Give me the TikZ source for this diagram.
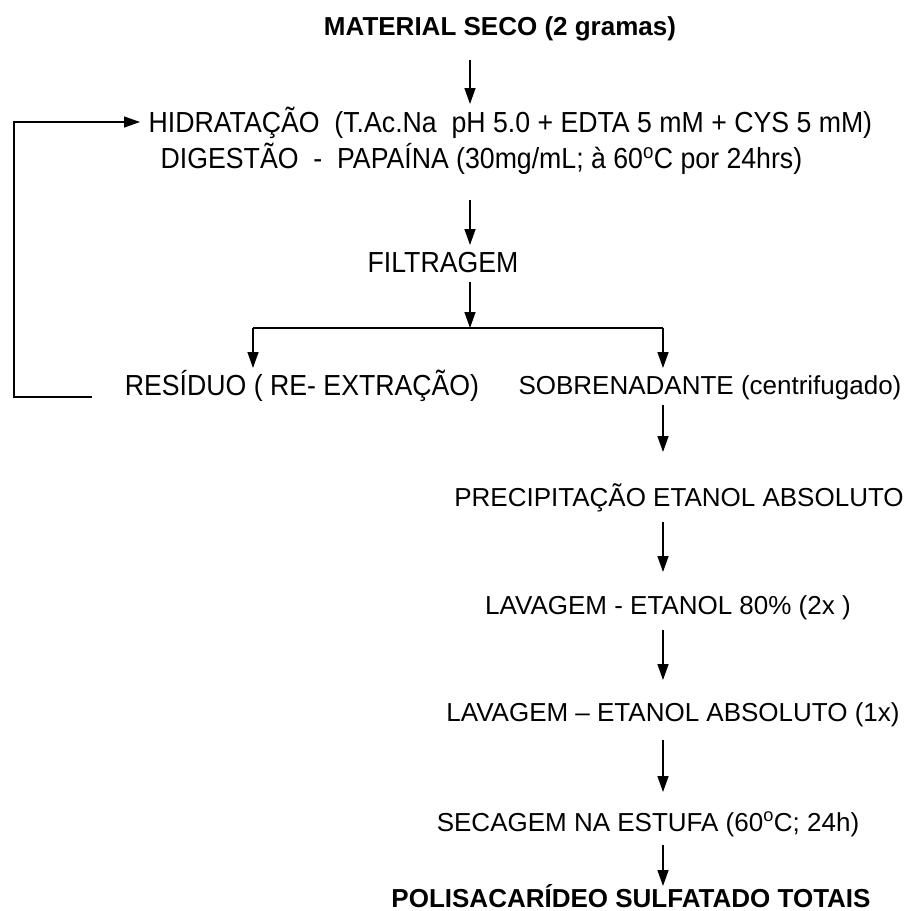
\documentclass[tikz,border=0pt]{standalone}
\usepackage{fontspec}
\setmainfont{Liberation Sans}
\newfontfamily\narrowfont[FakeStretch=0.92]{Liberation Sans}
\usetikzlibrary{arrows.meta, positioning}
\tikzset{
        ->,  % flechas cheias
        >={Triangle[length=16pt,width=11pt]},
        every node/.style={inner sep=0pt},
        passo/.style={font=\fontsize{26}{31}\selectfont, anchor=base},
        estreito/.style={font=\fontsize{29}{34}\selectfont\narrowfont, anchor=base},
        destaque/.style={font=\fontsize{26}{31}\selectfont\bfseries, anchor=base}
        }
\newcommand{\grau}{\textsuperscript{o}}

\begin{document}
\begin{tikzpicture}[x=1pt, y=-1pt, line width=1.4pt]
        \useasboundingbox (0,0) rectangle (922,911);
        % textos
        \node[destaque](mat) at (500,35){MATERIAL SECO (2 gramas)};
        \node[estreito, anchor=base west](hid) at (148,132){HIDRATAÇÃO\ \ (T.Ac.Na\ \ pH 5.0 + EDTA 5 mM + CYS 5 mM)};
        \node[estreito, anchor=base west](dig) at (160,168){DIGESTÃO\ \ -\ \ PAPAÍNA (30mg/mL; à 60\grau C por 24hrs)};
        \node[estreito](fil) at (443,272){FILTRAGEM};
        \node[estreito](res) at (302,395){RESÍDUO ( RE- EXTRAÇÃO)};
        \node[passo](sob) at (710,394){SOBRENADANTE (centrifugado)};
        \node[passo](pre) at (679,506){PRECIPITAÇÃO ETANOL ABSOLUTO};
        \node[passo](lv1) at (668,614){LAVAGEM - ETANOL 80\% (2x )};
        \node[passo](lv2) at (673,721){LAVAGEM -- ETANOL ABSOLUTO (1x)};
        \node[passo](sec) at (648,831){SECAGEM NA ESTUFA (60\grau C; 24h)};
        \node[destaque](pol) at (631,907){POLISACARÍDEO SULFATADO TOTAIS};
        % pontos auxiliares
        \coordinate (a1) at (470,60);  \coordinate (b1) at (470,104);
        \coordinate (a2) at (470,200); \coordinate (b2) at (470,245);
        \coordinate (a3) at (470,282); \coordinate (b3) at (470,328);
        \coordinate (e) at (253,328);  \coordinate (d) at (663,328);
        \coordinate (e1) at (253,368); \coordinate (d1) at (663,368);
        \coordinate (a4) at (663,405); \coordinate (b4) at (663,452);
        \coordinate (a5) at (663,522); \coordinate (b5) at (663,572);
        \coordinate (a6) at (663,630); \coordinate (b6) at (663,680);
        \coordinate (a7) at (663,740); \coordinate (b7) at (663,792);
        \coordinate (a8) at (663,845); \coordinate (b8) at (663,886);
        \coordinate (r0) at (92,397);  \coordinate (r1) at (14,397);
        \coordinate (r2) at (14,122);  \coordinate (r3) at (140,122);
        % conectores
        \draw (a1) -- (b1);
        \draw (a2) -- (b2);
        \draw (a3) -- (b3);
        \draw[-] (e) -- (d);
        \draw (e) -- (e1);
        \draw (d) -- (d1);
        \draw (r0) -- (r1) -- (r2) -- (r3);
        \draw (a4) -- (b4);
        \draw (a5) -- (b5);
        \draw (a6) -- (b6);
        \draw (a7) -- (b7);
        \draw (a8) -- (b8);
\end{tikzpicture}
\end{document}
